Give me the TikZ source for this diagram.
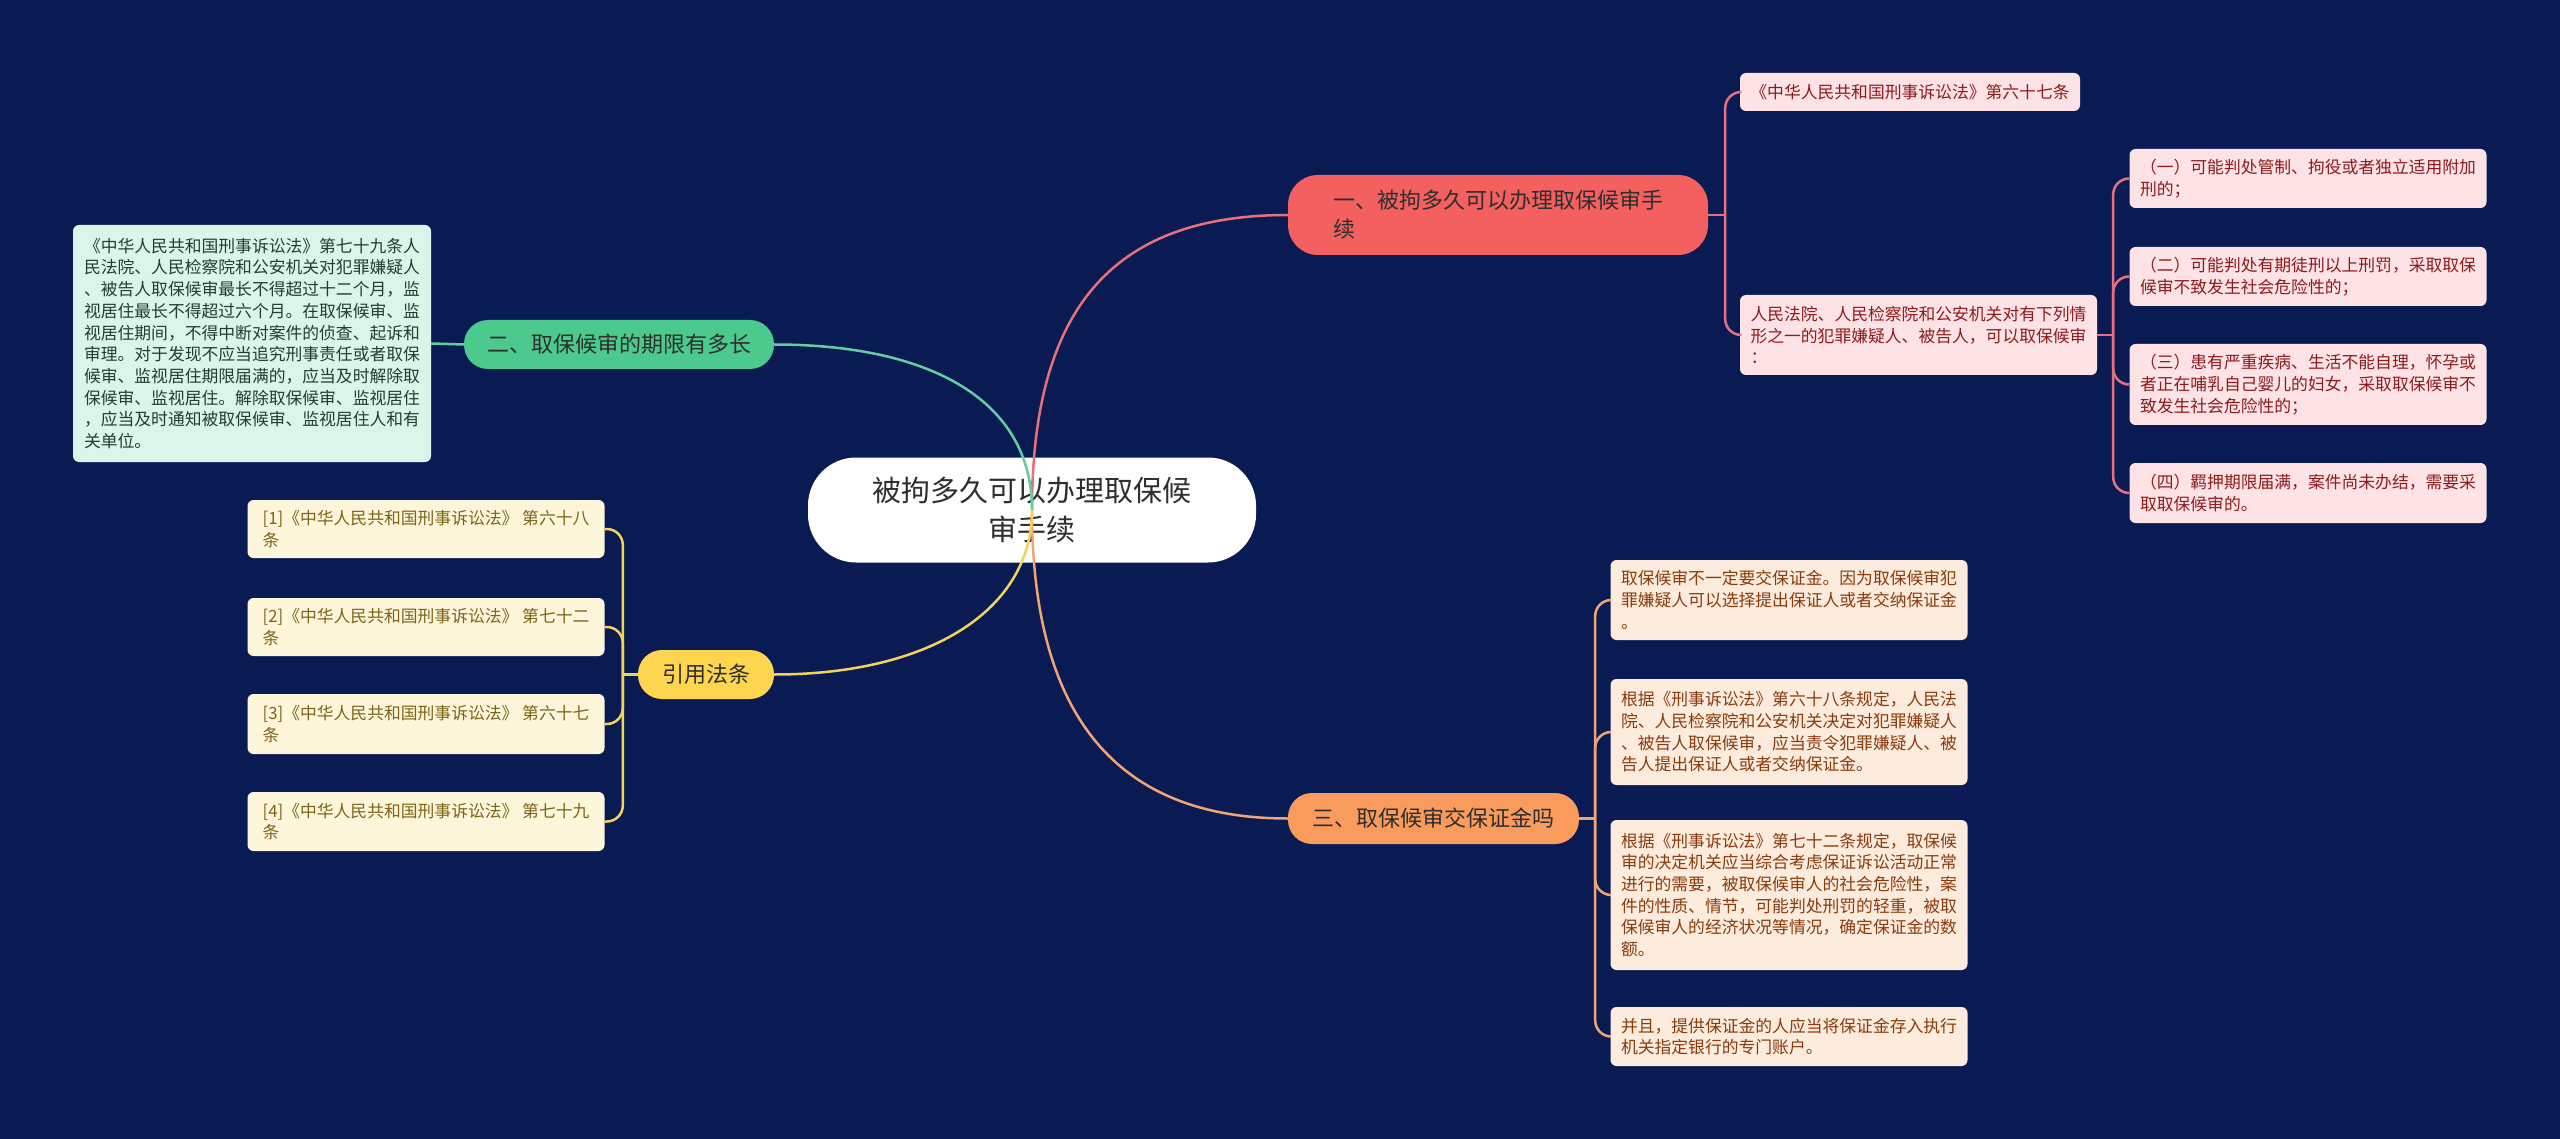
\documentclass[tikz,border=0pt]{standalone}
\usepackage{fontspec}
\newfontfamily\cjk{Noto Sans CJK SC}
\definecolor{fondo}{HTML}{0A1B54}
\definecolor{tinta}{HTML}{2E2E2E}
\definecolor{rojo}{HTML}{F45F5F}
\definecolor{rojoL}{HTML}{E8707C}
\definecolor{rojoH}{HTML}{FDE3E5}
\definecolor{rojoT}{HTML}{8E1B1B}
\definecolor{verde}{HTML}{4CC98C}
\definecolor{verdeL}{HTML}{62CFA2}
\definecolor{verdeH}{HTML}{DDF4EA}
\definecolor{verdeT}{HTML}{1F3F30}
\definecolor{amar}{HTML}{FDD54E}
\definecolor{amarL}{HTML}{F3D35A}
\definecolor{amarH}{HTML}{FEF6DB}
\definecolor{amarT}{HTML}{7D6417}
\definecolor{naranja}{HTML}{F89B5C}
\definecolor{naranjaL}{HTML}{F0A574}
\definecolor{naranjaH}{HTML}{FDEBDD}
\definecolor{naranjaT}{HTML}{8A3B0C}
\begin{document}
\begin{tikzpicture}[x=1pt,y=-1pt,
  every node/.style={font=\cjk, inner xsep=10pt, inner ysep=4pt},
  rama/.style={text=tinta, align=left, font=\cjk\fontsize{22}{29}\selectfont, minimum height=49pt, rounded corners=24pt},
  hoja/.style={align=left, font=\cjk\fontsize{16.8}{21.7}\selectfont, minimum width=357pt, rounded corners=6pt},
  arista/.style={line width=2.5pt},
  curva/.style={line width=2.5pt, rounded corners=16pt}]
  \fill[fondo] (0,0) rectangle (2560,1139);
  \useasboundingbox (0,0) rectangle (2560,1139);

  % Tema central
  \node[fill=white, text=tinta, align=center, minimum width=448pt, minimum height=105pt, rounded corners=48pt,
    font=\cjk\fontsize{29}{39}\selectfont] (t) at (1032,510) {被拘多久可以办理取保候\\审手续};

  % Ramas
  \node[rama, fill=rojo, minimum width=420pt, minimum height=80pt, rounded corners=30pt] (b1) at (1498,215) {一、被拘多久可以办理取保候审手\\续};
  \node[rama, fill=verde, minimum width=310pt] (b2) at (619,344.5) {二、取保候审的期限有多长};
  \node[rama, fill=naranja, minimum width=291pt, minimum height=51pt] (b3) at (1433.5,818.5) {三、取保候审交保证金吗};
  \node[rama, fill=amar, minimum width=136pt] (b4) at (706,674.5) {引用法条};

  % Hojas b1
  \node[hoja, fill=rojoH, text=rojoT, minimum width=340pt, minimum height=38pt] (r1) at (1910,92) {《中华人民共和国刑事诉讼法》第六十七条};
  \node[hoja, fill=rojoH, text=rojoT, minimum height=80pt] (r2) at (1918.5,335) {人民法院、人民检察院和公安机关对有下列情\\形之一的犯罪嫌疑人、被告人，可以取保候审\\：};
  \node[hoja, fill=rojoH, text=rojoT, minimum height=59pt] (s1) at (2308,178.5) {（一）可能判处管制、拘役或者独立适用附加\\刑的；};
  \node[hoja, fill=rojoH, text=rojoT, minimum height=59pt] (s2) at (2308,276.5) {（二）可能判处有期徒刑以上刑罚，采取取保\\候审不致发生社会危险性的；};
  \node[hoja, fill=rojoH, text=rojoT, minimum height=81pt] (s3) at (2308,384.5) {（三）患有严重疾病、生活不能自理，怀孕或\\者正在哺乳自己婴儿的妇女，采取取保候审不\\致发生社会危险性的；};
  \node[hoja, fill=rojoH, text=rojoT, minimum height=60pt] (s4) at (2308,493) {（四）羁押期限届满，案件尚未办结，需要采\\取取保候审的。};

  % Hojas b2
  \node[hoja, fill=verdeH, text=verdeT, minimum width=358pt, minimum height=237pt] (l1) at (252,343.5) {《中华人民共和国刑事诉讼法》第七十九条人\\民法院、人民检察院和公安机关对犯罪嫌疑人\\、被告人取保候审最长不得超过十二个月，监\\视居住最长不得超过六个月。在取保候审、监\\视居住期间，不得中断对案件的侦查、起诉和\\审理。对于发现不应当追究刑事责任或者取保\\候审、监视居住期限届满的，应当及时解除取\\保候审、监视居住。解除取保候审、监视居住\\，应当及时通知被取保候审、监视居住人和有\\关单位。};

  % Hojas b3
  \node[hoja, fill=naranjaH, text=naranjaT, minimum height=80pt] (o1) at (1789,600) {取保候审不一定要交保证金。因为取保候审犯\\罪嫌疑人可以选择提出保证人或者交纳保证金\\。};
  \node[hoja, fill=naranjaH, text=naranjaT, minimum height=106pt] (o2) at (1789,732) {根据《刑事诉讼法》第六十八条规定，人民法\\院、人民检察院和公安机关决定对犯罪嫌疑人\\、被告人取保候审，应当责令犯罪嫌疑人、被\\告人提出保证人或者交纳保证金。};
  \node[hoja, fill=naranjaH, text=naranjaT, minimum height=150pt] (o3) at (1789,895) {根据《刑事诉讼法》第七十二条规定，取保候\\审的决定机关应当综合考虑保证诉讼活动正常\\进行的需要，被取保候审人的社会危险性，案\\件的性质、情节，可能判处刑罚的轻重，被取\\保候审人的经济状况等情况，确定保证金的数\\额。};
  \node[hoja, fill=naranjaH, text=naranjaT, minimum height=59pt] (o4) at (1789,1036.5) {并且，提供保证金的人应当将保证金存入执行\\机关指定银行的专门账户。};

  % Hojas b4
  \node[hoja, fill=amarH, text=amarT, minimum height=58pt] (c1) at (426,529) {[1]《中华人民共和国刑事诉讼法》 第六十八\\条};
  \node[hoja, fill=amarH, text=amarT, minimum height=58pt] (c2) at (426,627) {[2]《中华人民共和国刑事诉讼法》 第七十二\\条};
  \node[hoja, fill=amarH, text=amarT, minimum height=60pt] (c3) at (426,724) {[3]《中华人民共和国刑事诉讼法》 第六十七\\条};
  \node[hoja, fill=amarH, text=amarT, minimum height=59pt] (c4) at (426,821.5) {[4]《中华人民共和国刑事诉讼法》 第七十九\\条};

  % Aristas del tema
  \draw[arista, rojoL] (t.center) .. controls (1032,300) and (1120,215) .. (b1.west);
  \draw[arista, verdeL] (t.center) .. controls (1032,400) and (930,344.5) .. (b2.east);
  \draw[arista, naranjaL] (t.center) .. controls (1032,720) and (1120,818.5) .. (b3.west);
  \draw[arista, amarL] (t.center) .. controls (1032,610) and (930,674.5) .. (b4.east);

  % Aristas de las ramas
  \draw[arista, rojoL] (b1.east) -- ++(17,0) coordinate (k1);
  \foreach \to in {r1, r2}
    \draw[curva, rojoL] (k1) |- (\to.west);
  \draw[arista, rojoL] (r2.east) -- ++(16,0) coordinate (k2);
  \foreach \to in {s1, s2, s3, s4}
    \draw[curva, rojoL] (k2) |- (\to.west);
  \draw[arista, verdeL] (b2.west) -- (l1.east);
  \draw[arista, naranjaL] (b3.east) -- ++(16,0) coordinate (k3);
  \foreach \to in {o1, o2, o3, o4}
    \draw[curva, naranjaL] (k3) |- (\to.west);
  \draw[arista, amarL] (b4.west) -- ++(-15,0) coordinate (k4);
  \foreach \to in {c1, c2, c3, c4}
    \draw[curva, amarL] (k4) |- (\to.east);
\end{tikzpicture}
\end{document}
